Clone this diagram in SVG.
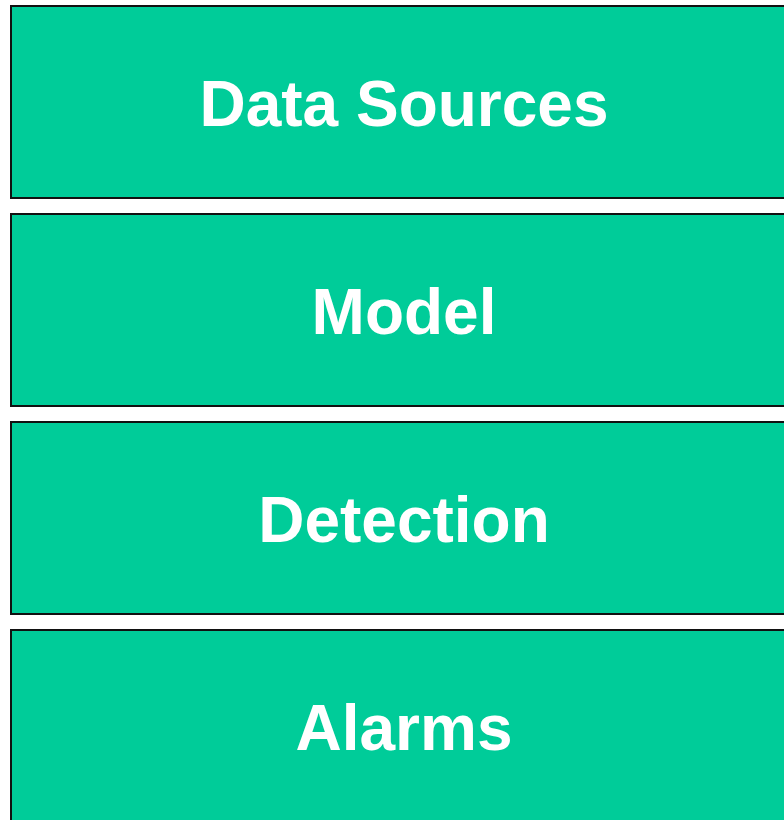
<svg xmlns="http://www.w3.org/2000/svg" width="784" height="820" viewBox="0 0 784 820">
  <style>
    .layer rect { fill: #00CC99; stroke: #111111; stroke-width: 2; }
    .layer text { fill: #FFFFFF; font-family: "Liberation Sans", Arial, sans-serif; font-weight: bold; font-size: 64px; text-anchor: middle; }
  </style>
  <rect width="784" height="820" fill="#FFFFFF"/>
  <g id="data-sources" class="layer">
    <rect x="11" y="6" width="790" height="192"/>
    <text x="404" y="126">Data Sources</text>
  </g>
  <g id="model" class="layer">
    <rect x="11" y="214" width="790" height="192"/>
    <text x="404" y="334">Model</text>
  </g>
  <g id="detection" class="layer">
    <rect x="11" y="422" width="790" height="192"/>
    <text x="404" y="542">Detection</text>
  </g>
  <g id="alarms" class="layer">
    <rect x="11" y="630" width="790" height="200"/>
    <text x="404" y="750">Alarms</text>
  </g>
  <g id="connectors"/>
</svg>
